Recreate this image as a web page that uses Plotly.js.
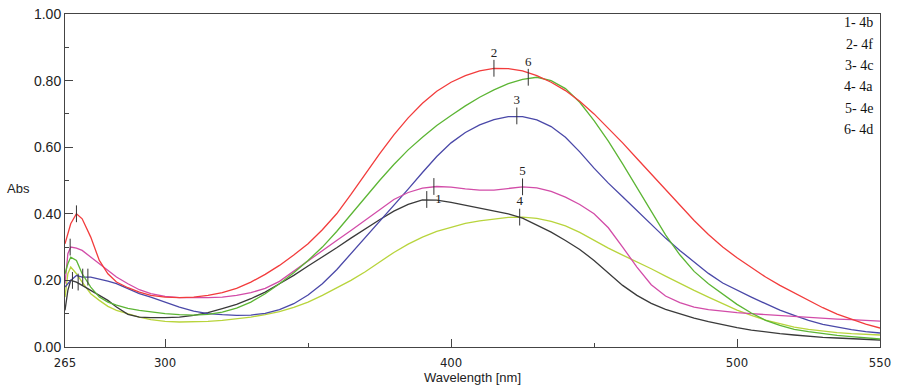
<!DOCTYPE html>
<html>
<head>
<meta charset="utf-8">
<script src="https://cdn.plot.ly/plotly-3.0.1.min.js"></script>
<style>
html,body{margin:0;padding:0;background:#fff;}
#chart{width:897px;height:391px;}
</style>
</head>
<body>
<div id="chart"></div>
<script>
// Wavelength grid (nm)
const wavelength = [265,266,267,269,271,274,277,280,283,287,291,295,
  300,305,310,315,320,325,330,335,340,345,
  350,355,360,365,370,375,380,385,390,395,
  400,405,410,415,420,425,430,435,440,445,
  450,455,460,465,470,475,480,485,490,495,
  500,505,510,515,520,525,530,535,540,545,550];

// Absorbance series
const abs4b = [0.11,0.17,0.20,0.195,0.185,0.17,0.155,0.14,0.12,0.098,0.09,0.088,
  0.088,0.09,0.095,0.103,0.115,0.128,0.145,0.165,0.19,0.215,
  0.243,0.27,0.298,0.327,0.355,0.382,0.408,0.428,0.442,0.441,
  0.434,0.426,0.418,0.409,0.40,0.387,0.367,0.345,0.32,0.293,
  0.26,0.222,0.185,0.155,0.131,0.113,0.099,0.087,0.076,0.066,
  0.058,0.051,0.045,0.04,0.036,0.032,0.029,0.027,0.025,0.023,0.021];
const abs4f = [0.31,0.34,0.37,0.40,0.385,0.33,0.26,0.22,0.195,0.178,0.165,0.155,
  0.150,0.148,0.150,0.155,0.163,0.176,0.195,0.218,0.245,0.276,
  0.31,0.352,0.40,0.458,0.52,0.58,0.637,0.688,0.732,0.768,
  0.795,0.815,0.829,0.837,0.836,0.829,0.815,0.795,0.77,0.738,
  0.70,0.658,0.613,0.566,0.519,0.471,0.425,0.38,0.338,0.300,
  0.268,0.238,0.21,0.185,0.162,0.14,0.118,0.099,0.083,0.069,0.057];
const abs4c = [0.18,0.19,0.20,0.215,0.21,0.21,0.205,0.198,0.19,0.175,0.16,0.15,
  0.135,0.12,0.108,0.10,0.097,0.095,0.096,0.101,0.112,0.13,
  0.156,0.19,0.232,0.28,0.328,0.376,0.425,0.474,0.524,0.572,
  0.613,0.644,0.667,0.683,0.692,0.692,0.682,0.662,0.63,0.586,
  0.537,0.492,0.451,0.41,0.367,0.327,0.29,0.255,0.221,0.192,
  0.17,0.15,0.13,0.111,0.095,0.08,0.068,0.059,0.052,0.046,0.042];
const abs4a = [0.15,0.22,0.24,0.22,0.195,0.16,0.14,0.122,0.11,0.099,0.09,0.082,
  0.077,0.075,0.075,0.077,0.08,0.084,0.09,0.097,0.106,0.119,
  0.135,0.155,0.177,0.20,0.226,0.255,0.284,0.309,0.33,0.347,
  0.36,0.371,0.379,0.385,0.389,0.39,0.386,0.377,0.364,0.344,
  0.32,0.297,0.276,0.256,0.235,0.213,0.191,0.17,0.15,0.13,
  0.111,0.095,0.081,0.07,0.06,0.053,0.047,0.043,0.04,0.038,0.036];
const abs4e = [0.19,0.28,0.30,0.297,0.29,0.27,0.25,0.23,0.21,0.19,0.172,0.16,
  0.152,0.148,0.147,0.148,0.15,0.155,0.163,0.176,0.197,0.228,
  0.26,0.29,0.32,0.35,0.381,0.414,0.443,0.464,0.477,0.482,
  0.48,0.475,0.471,0.471,0.476,0.481,0.478,0.467,0.45,0.428,
  0.40,0.358,0.30,0.24,0.187,0.153,0.133,0.12,0.112,0.107,
  0.103,0.10,0.097,0.094,0.091,0.089,0.086,0.084,0.082,0.08,0.078];
const abs4d = [0.22,0.25,0.27,0.26,0.22,0.18,0.15,0.135,0.126,0.116,0.11,0.105,
  0.100,0.097,0.096,0.098,0.105,0.117,0.135,0.16,0.19,0.223,
  0.26,0.30,0.347,0.398,0.45,0.50,0.548,0.592,0.63,0.665,
  0.695,0.724,0.75,0.772,0.791,0.804,0.81,0.80,0.776,0.735,
  0.68,0.618,0.55,0.478,0.405,0.337,0.277,0.227,0.19,0.158,
  0.128,0.102,0.08,0.065,0.053,0.046,0.04,0.035,0.031,0.027,0.024];

// Peak / cursor marks
const markWl  = [269, 266.8, 267.6, 269.6, 271.2, 273, 391.5, 394, 415, 423, 424, 425, 427];
const markAbs = [0.40, 0.30, 0.20, 0.195, 0.21, 0.21, 0.443, 0.482, 0.837, 0.694, 0.39, 0.481, 0.81];
const markLabel = ['', '', '', '', '', '', '1', '', '2', '3', '4', '5', '6'];

// Legend text (top right)
const legendLabels = ['1- 4b', '2- 4f', '3- 4c', '4- 4a', '5- 4e', '6- 4d'];

// Axis ticks
const xTickVals = [265, 300, 400, 500, 550];
const xMinorVals = [350, 450];
const yTickVals = [0, 0.2, 0.4, 0.6, 0.8, 1.0];

const series = [
  {y: abs4a, color: '#b8d43c'},
  {y: abs4b, color: '#3a3a3a'},
  {y: abs4c, color: '#4a48a8'},
  {y: abs4e, color: '#d24ca8'},
  {y: abs4d, color: '#5cb534'},
  {y: abs4f, color: '#f23c3c'}
];

const traces = series.map(s => ({
  x: wavelength, y: s.y, type: 'scatter', mode: 'lines',
  line: {color: s.color, width: 1.3},
  hoverinfo: 'skip', showlegend: false
}));

const textPos = markLabel.map(l => l === '1' ? 'middle right' : 'top center');
traces.push({
  x: markWl, y: markAbs, text: markLabel, type: 'scatter', mode: 'markers+text',
  marker: {symbol: 'line-ns', size: 12, line: {width: 1, color: '#333'}, color: '#333'},
  textposition: textPos,
  textfont: {family: 'Liberation Serif, Times New Roman, serif', size: 13, color: '#222'},
  cliponaxis: false, showlegend: false, hoverinfo: 'skip'
});

const annotations = legendLabels.map((t, i) => ({
  text: t, xref: 'paper', yref: 'paper', x: 0.994, y: 0.973 - i * 0.064,
  xanchor: 'right', yanchor: 'middle', showarrow: false,
  font: {family: 'Liberation Serif, Times New Roman, serif', size: 14, color: '#111'}
}));
annotations.push({
  text: 'Abs', xref: 'paper', yref: 'paper', x: -0.0565, y: 0.477,
  xanchor: 'center', yanchor: 'middle', showarrow: false,
  font: {family: 'Liberation Sans, Arial, sans-serif', size: 13, color: '#222'}
});

const layout = {
  width: 897, height: 391,
  margin: {l: 65, r: 17, t: 14, b: 44, pad: 0},
  paper_bgcolor: '#fff', plot_bgcolor: '#fff',
  showlegend: false,
  xaxis: {
    range: [265, 550], tickmode: 'array', tickvals: xTickVals,
    ticktext: xTickVals.map(String),
    ticks: 'inside', ticklen: 8, tickwidth: 1, tickcolor: '#444',
    showline: true, linecolor: '#444', linewidth: 1, mirror: true,
    showgrid: false, zeroline: false,
    ticklabelstandoff: 3,
    tickfont: {family: 'Liberation Sans Narrow, Arial Narrow, DejaVu Sans Condensed, sans-serif', size: 13, color: '#222'},
    minor: {tickmode: 'array', tickvals: xMinorVals, ticks: 'inside', ticklen: 4, tickcolor: '#444', showgrid: false},
    title: {text: 'Wavelength [nm]', standoff: 2,
      font: {family: 'Liberation Sans, Arial, sans-serif', size: 13, color: '#222'}}
  },
  yaxis: {
    range: [0, 1], tickmode: 'array', tickvals: yTickVals, tickformat: '.2f',
    ticks: 'inside', ticklen: 8, tickwidth: 1, tickcolor: '#444',
    showline: true, linecolor: '#444', linewidth: 1, mirror: true,
    showgrid: false, zeroline: false,
    tickfont: {family: 'Liberation Sans, Arial, sans-serif', size: 14, color: '#222'},
    minor: {dtick: 0.1, ticks: 'inside', ticklen: 4, tickcolor: '#444', showgrid: false}
  },
  annotations: annotations
};

Plotly.newPlot('chart', traces, layout, {displayModeBar: false, staticPlot: true});
</script>
</body>
</html>
